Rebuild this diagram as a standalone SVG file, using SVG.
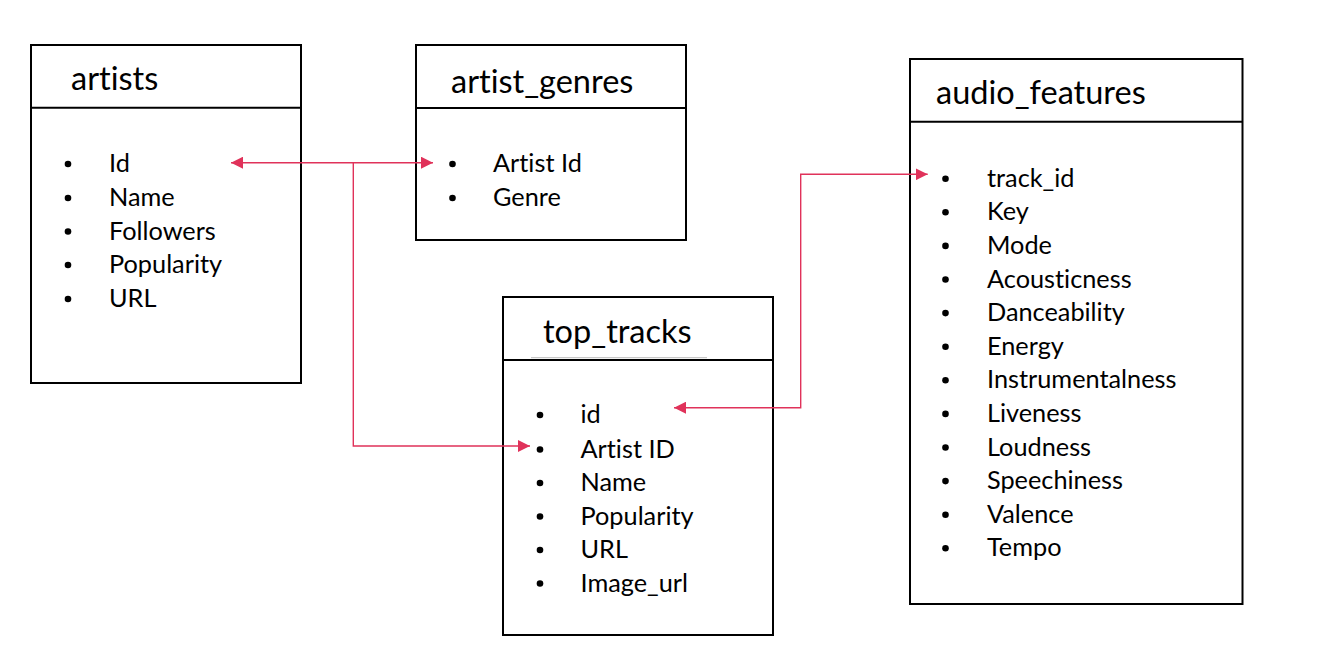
<svg xmlns="http://www.w3.org/2000/svg" width="1325" height="671" viewBox="0 0 1325 671">
  <style>
    .box { fill: #ffffff; stroke: #000000; stroke-width: 2; }
    .sep { stroke: #000000; stroke-width: 2; }
    .title { font-family: Lato, "Liberation Sans", sans-serif; font-size: 32.5px; fill: #000000; font-variant-ligatures: none; }
    .item { font-family: Lato, "Liberation Sans", sans-serif; font-size: 25.3px; fill: #000000; font-variant-ligatures: none; }
    .bullet { fill: #000000; }
    .conn { fill: none; stroke: #E0325A; stroke-width: 1.4; }
  </style>
  <defs>
    <marker id="arrow" markerUnits="userSpaceOnUse" markerWidth="12" markerHeight="12" refX="12" refY="6" orient="auto-start-reverse" viewBox="0 0 12 12">
      <path d="M0,0 L12,6 L0,12 z" fill="#E0325A"/>
    </marker>
  </defs>

  <rect width="1325" height="671" fill="#ffffff"/>

  <g id="artists">
    <rect class="box" x="31" y="45" width="270" height="338"/>
    <line class="sep" x1="31" y1="107.7" x2="301" y2="107.7"/>
    <text class="title" x="71" y="90">artists</text>
    <circle class="bullet" cx="68" cy="164" r="3.3"/>
    <circle class="bullet" cx="68" cy="198" r="3.3"/>
    <circle class="bullet" cx="68" cy="231.5" r="3.3"/>
    <circle class="bullet" cx="68" cy="265" r="3.3"/>
    <circle class="bullet" cx="68" cy="299" r="3.3"/>
    <text class="item" x="109" y="172">Id</text>
    <text class="item" x="109" y="206">Name</text>
    <text class="item" x="109" y="239.5">Followers</text>
    <text class="item" x="109" y="273">Popularity</text>
    <text class="item" x="109" y="307">URL</text>
  </g>

  <g id="artist_genres">
    <rect class="box" x="416" y="45" width="270" height="195"/>
    <line class="sep" x1="416" y1="108" x2="686" y2="108"/>
    <text class="title" x="451" y="93">artist_genres</text>
    <circle class="bullet" cx="452.5" cy="164" r="3.3"/>
    <circle class="bullet" cx="452.5" cy="198" r="3.3"/>
    <text class="item" x="493" y="172">Artist Id</text>
    <text class="item" x="493" y="206">Genre</text>
  </g>

  <g id="top_tracks">
    <rect class="box" x="503" y="297" width="270" height="338"/>
    <line x1="531" y1="357.7" x2="707" y2="357.7" stroke="#bbbbbb" stroke-width="1"/>
    <line class="sep" x1="503" y1="360" x2="773" y2="360"/>
    <text class="title" x="543" y="343">top_tracks</text>
    <circle class="bullet" cx="540" cy="415" r="3.3"/>
    <circle class="bullet" cx="540" cy="449.5" r="3.3"/>
    <circle class="bullet" cx="540" cy="483" r="3.3"/>
    <circle class="bullet" cx="540" cy="516.5" r="3.3"/>
    <circle class="bullet" cx="540" cy="550" r="3.3"/>
    <circle class="bullet" cx="540" cy="583.5" r="3.3"/>
    <text class="item" x="580.5" y="423">id</text>
    <text class="item" x="580.5" y="457.5">Artist ID</text>
    <text class="item" x="580.5" y="491">Name</text>
    <text class="item" x="580.5" y="524.5">Popularity</text>
    <text class="item" x="580.5" y="558">URL</text>
    <text class="item" x="580.5" y="591.5">Image_url</text>
  </g>

  <g id="audio_features">
    <rect class="box" x="910" y="59" width="332.5" height="545"/>
    <line class="sep" x1="910" y1="121.7" x2="1242.5" y2="121.7"/>
    <text class="title" x="936" y="104">audio_features</text>
    <g class="bullet">
      <circle cx="945.5" cy="178.7" r="3.3"/>
      <circle cx="945.5" cy="212.3" r="3.3"/>
      <circle cx="945.5" cy="245.9" r="3.3"/>
      <circle cx="945.5" cy="279.5" r="3.3"/>
      <circle cx="945.5" cy="313.1" r="3.3"/>
      <circle cx="945.5" cy="346.7" r="3.3"/>
      <circle cx="945.5" cy="380.3" r="3.3"/>
      <circle cx="945.5" cy="413.9" r="3.3"/>
      <circle cx="945.5" cy="447.5" r="3.3"/>
      <circle cx="945.5" cy="481.1" r="3.3"/>
      <circle cx="945.5" cy="514.7" r="3.3"/>
      <circle cx="945.5" cy="548.3" r="3.3"/>
    </g>
    <text class="item" x="987" y="186.7">track_id</text>
    <text class="item" x="987" y="220.3">Key</text>
    <text class="item" x="987" y="253.9">Mode</text>
    <text class="item" x="987" y="287.5">Acousticness</text>
    <text class="item" x="987" y="321.1">Danceability</text>
    <text class="item" x="987" y="354.7">Energy</text>
    <text class="item" x="987" y="388.3">Instrumentalness</text>
    <text class="item" x="987" y="421.9">Liveness</text>
    <text class="item" x="987" y="455.5">Loudness</text>
    <text class="item" x="987" y="489.1">Speechiness</text>
    <text class="item" x="987" y="522.7">Valence</text>
    <text class="item" x="987" y="556.3">Tempo</text>
  </g>

  <g id="connectors">
    <path class="conn" d="M231,162.7 L433,162.7" marker-start="url(#arrow)" marker-end="url(#arrow)"/>
    <path class="conn" d="M353.3,162.7 L353.3,446 L530,446" marker-end="url(#arrow)"/>
    <path class="conn" d="M674,407.7 L800.7,407.7 L800.7,174.3 L927.7,174.3" marker-start="url(#arrow)" marker-end="url(#arrow)"/>
  </g>
</svg>
